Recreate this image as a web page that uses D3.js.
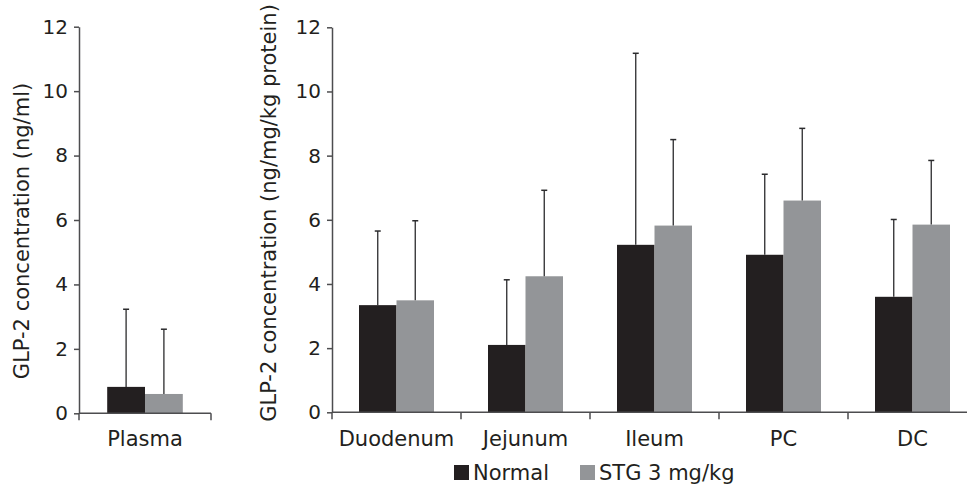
<!DOCTYPE html>
<html>
<head>
<meta charset="utf-8">
<script src="https://cdn.jsdelivr.net/npm/d3@7"></script>
<style>
  html, body { margin: 0; padding: 0; background: #fff; }
  svg { display: block; font-family: "DejaVu Sans", Verdana, sans-serif; }
</style>
</head>
<body>
<svg id="chart" width="967" height="488"></svg>
<script>
// ---- data ----
const series = ["Normal", "STG 3 mg/kg"];
const plasmaCategories = ["Plasma"];
const plasmaNormal = [0.82];
const plasmaSTG = [0.60];
const plasmaNormalErr = [3.23];   // top of error bar
const plasmaSTGErr = [2.61];

const tissueCategories = ["Duodenum", "Jejunum", "Ileum", "PC", "DC"];
const tissueNormal = [3.34, 2.10, 5.22, 4.91, 3.60];
const tissueSTG = [3.49, 4.24, 5.82, 6.60, 5.85];
const tissueNormalErr = [5.65, 4.13, 11.19, 7.42, 6.01];
const tissueSTGErr = [5.97, 6.92, 8.50, 8.85, 7.85];

const yTicks = [0, 2, 4, 6, 8, 10, 12];
const leftTitle = "GLP-2 concentration (ng/ml)";
const rightTitle = "GLP-2 concentration (ng/mg/kg protein)";

// ---- style ----
const colors = ["#231f20", "#939598"];
const textColor = "#231f20";
const axisColor = "#4d4d4f";

const svg = d3.select("#chart");

function panel(opts) {
  const { cats, normal, stg, nErr, sErr, xRange, yRange, pad, title, titleX, titleY } = opts;
  const g = svg.append("g");
  const x0 = d3.scaleBand().domain(cats).range(xRange).padding(0);
  const x1 = d3.scaleBand().domain(series).range([pad, x0.bandwidth() - pad]).padding(0);
  const y = d3.scaleLinear().domain([0, 12]).range(yRange);

  const rows = cats.map((c, i) => ({ c, vals: [
    { s: series[0], v: normal[i], e: nErr[i] },
    { s: series[1], v: stg[i], e: sErr[i] }
  ]}));

  // bars
  const grp = g.selectAll("g.cat").data(rows).join("g")
    .attr("class", "cat")
    .attr("transform", d => `translate(${x0(d.c)},0)`);
  grp.selectAll("rect").data(d => d.vals).join("rect")
    .attr("x", d => x1(d.s))
    .attr("width", x1.bandwidth())
    .attr("y", d => y(d.v))
    .attr("height", d => y(0) - y(d.v))
    .attr("fill", (d, i) => colors[i]);

  // error bars
  const eg = grp.selectAll("g.err").data(d => d.vals).join("g").attr("class", "err");
  eg.append("line")
    .attr("x1", d => x1(d.s) + x1.bandwidth() / 2)
    .attr("x2", d => x1(d.s) + x1.bandwidth() / 2)
    .attr("y1", d => y(d.v))
    .attr("y2", d => y(d.e))
    .attr("stroke", "#2b2b2d").attr("stroke-width", 1.3);
  eg.append("line")
    .attr("x1", d => x1(d.s) + x1.bandwidth() / 2 - 3)
    .attr("x2", d => x1(d.s) + x1.bandwidth() / 2 + 3)
    .attr("y1", d => y(d.e))
    .attr("y2", d => y(d.e))
    .attr("stroke", "#2b2b2d").attr("stroke-width", 1.5);

  // y axis
  const ya = g.append("g")
    .attr("transform", `translate(${xRange[0]},0)`)
    .call(d3.axisLeft(y).tickValues(yTicks).tickSize(5).tickSizeOuter(0).tickPadding(6));
  ya.select(".domain").attr("stroke", axisColor).attr("stroke-width", 1.5);
  ya.selectAll(".tick line").attr("stroke", axisColor).attr("stroke-width", 1.5);
  ya.selectAll(".tick text").attr("fill", textColor)
    .style("font-size", "20px").style("font-family", "DejaVu Sans, Verdana, sans-serif");

  // x axis baseline
  g.append("line")
    .attr("x1", xRange[0]).attr("x2", xRange[1])
    .attr("y1", y(0)).attr("y2", y(0))
    .attr("stroke", axisColor).attr("stroke-width", 1.5);
  const bounds = cats.map(c => x0(c)).concat([x0(cats[cats.length - 1]) + x0.bandwidth()]);
  g.selectAll("line.xt").data(bounds).join("line").attr("class", "xt")
    .attr("x1", d => d).attr("x2", d => d)
    .attr("y1", y(0)).attr("y2", y(0) + 7)
    .attr("stroke", axisColor).attr("stroke-width", 1.5);

  // category labels
  g.selectAll("text.cl").data(cats).join("text").attr("class", "cl")
    .attr("x", d => x0(d) + x0.bandwidth() / 2)
    .attr("y", 446)
    .attr("text-anchor", "middle")
    .attr("fill", textColor)
    .style("font-size", "21px")
    .text(d => d);

  // y title
  g.append("text")
    .attr("transform", `translate(${titleX},${titleY}) rotate(-90)`)
    .attr("text-anchor", "middle")
    .attr("fill", textColor)
    .style("font-size", "21px")
    .text(title);
}

panel({
  cats: plasmaCategories, normal: plasmaNormal, stg: plasmaSTG,
  nErr: plasmaNormalErr, sErr: plasmaSTGErr,
  xRange: [79, 211], yRange: [413.3, 26.7], pad: 28.2,
  title: leftTitle, titleX: 29, titleY: 231
});

panel({
  cats: tissueCategories, normal: tissueNormal, stg: tissueSTG,
  nErr: tissueNormalErr, sErr: tissueSTGErr,
  xRange: [332, 977], yRange: [412.3, 27.3], pad: 27,
  title: rightTitle, titleX: 276, titleY: 213
});

// legend
const legendX = [454, 580];
const lg = svg.append("g");
const li = lg.selectAll("g").data(series).join("g")
  .attr("transform", (d, i) => `translate(${legendX[i]},465)`);
li.append("rect").attr("width", 15).attr("height", 15).attr("fill", (d, i) => colors[i]);
li.append("text").attr("x", 19).attr("y", 15)
  .attr("fill", textColor).style("font-size", "21px").text(d => d);
</script>
</body>
</html>
